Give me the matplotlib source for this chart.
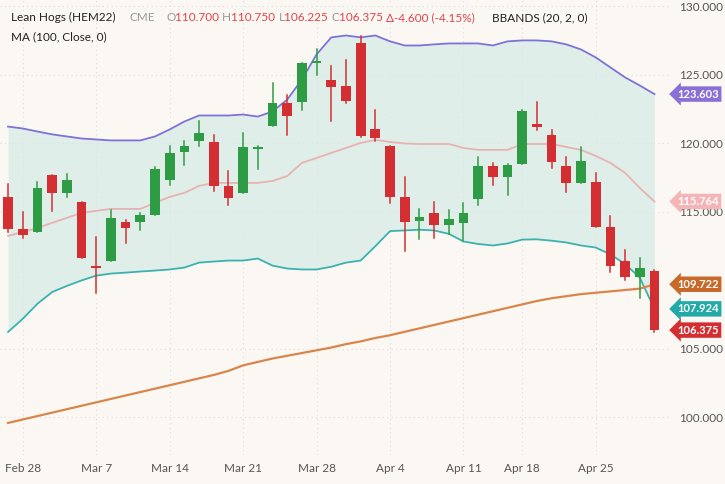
import matplotlib
matplotlib.use("Agg")
import matplotlib.pyplot as plt

opens = [116.12,113.74,113.52,117.68,116.41,115.75,111.0,111.45,114.3,114.25,114.74,117.34,119.4,120.2,120.12,116.9,116.4,119.6,121.28,122.93,123.05,125.85,124.64,124.2,
         127.31,121.04,119.82,116.07,114.35,114.95,114.05,114.22,115.95,118.38,117.53,118.5,121.4,120.62,118.38,117.09,117.21,113.93,111.45,110.23,110.70]
highs = [117.04,115.02,117.21,117.68,117.75,115.75,113.2,115.15,114.4,114.95,118.3,119.82,120.2,121.67,120.6,118.0,120.74,119.8,124.39,123.54,125.85,126.88,125.66,126.1,
         127.85,122.44,119.82,117.53,115.19,115.75,115.15,115.63,118.99,118.55,118.5,122.44,123.05,121.0,119.04,119.77,117.82,114.73,112.23,111.62,110.75]
lows = [113.56,113.08,113.52,115.07,116.12,111.62,109.06,111.45,112.71,113.69,114.74,116.97,118.43,119.82,116.5,115.48,116.36,118.12,121.28,120.62,122.44,124.98,121.67,122.98,
        120.45,120.2,115.63,112.18,113.03,113.08,113.37,112.91,115.48,116.97,116.24,118.5,121.0,118.24,116.48,117.09,113.93,110.64,110.04,108.7,106.225]
closes = [113.74,113.33,116.73,116.36,117.34,111.62,110.9,114.54,113.81,114.78,118.12,119.28,119.82,120.74,116.9,116.0,119.77,119.7,122.93,122.0,125.85,126.05,124.1,123.13,
          120.55,120.38,116.07,114.24,114.6,114.05,114.48,114.95,118.38,117.58,118.43,122.37,121.23,118.67,117.09,118.72,113.93,111.08,110.23,110.89,106.375]
upper = [121.23,121.09,120.87,120.66,120.51,120.36,120.29,120.22,120.22,120.22,120.51,121.02,121.6,122.04,122.04,122.04,122.11,121.96,122.33,123.2,124.66,126.5,127.74,127.88,
         127.74,127.88,127.45,127.15,127.15,127.23,127.3,127.3,127.3,127.15,127.45,127.52,127.52,127.45,127.23,126.86,126.28,125.55,124.82,124.23,123.6]
middle = [113.25,113.54,113.83,114.2,114.57,114.93,115.08,115.22,115.22,115.22,115.66,116.1,116.39,116.9,117.12,117.12,117.12,117.12,117.26,117.62,118.58,118.94,119.31,119.67,
          120.04,120.26,120.11,120.0,119.96,119.96,119.96,119.67,119.53,119.53,119.53,119.96,119.96,119.96,119.74,119.53,119.09,118.58,117.85,116.75,115.76]
lower = [106.24,107.2,108.3,109.15,109.6,110.0,110.35,110.5,110.57,110.65,110.72,110.8,110.94,111.3,111.38,111.45,111.45,111.6,111.08,110.87,110.8,110.8,111.0,111.3,
         111.45,112.5,113.6,113.65,113.7,113.65,113.4,112.84,112.66,112.55,112.7,112.98,113.0,112.9,112.77,112.55,112.4,111.9,111.2,110.2,107.92]
ma100 = [99.6,99.85,100.1,100.35,100.6,100.85,101.1,101.35,101.6,101.85,102.1,102.35,102.6,102.85,103.1,103.4,103.8,104.05,104.3,104.5,104.7,104.9,105.1,105.35,
         105.55,105.8,106.0,106.25,106.5,106.75,107.0,107.25,107.5,107.75,108.0,108.25,108.5,108.7,108.85,109.0,109.1,109.2,109.3,109.4,109.72]
tick_idx = [1, 6, 11, 16, 21, 26, 31, 35, 40]
tick_labels = ["Feb 28", "Mar 7", "Mar 14", "Mar 21", "Mar 28", "Apr 4", "Apr 11", "Apr 18", "Apr 25"]
ytick_vals = [100, 105, 115, 120, 125, 130]

BG = "#fbf8f3"
fig = plt.figure(figsize=(7.25, 4.84), dpi=100, facecolor=BG)
ax = fig.add_axes([0.0, 0.06, 0.925, 0.94], facecolor=BG)
n = len(closes)
xs = list(range(n))
ax.set_xlim(-0.55, n + 0.1)
ax.set_ylim(97.26, 130.47)

ax.fill_between(xs, lower, upper, color="#d5ebe5", alpha=0.7, lw=0, zorder=1)
ax.plot(xs, upper, color="#7d72d8", lw=1.3, zorder=2)
ax.plot(xs, lower, color="#3cb2ae", lw=1.3, zorder=2)
ax.plot(xs, middle, color="#e6b3b3", lw=1.3, zorder=2)
ax.plot(xs, ma100, color="#d9854c", lw=1.6, zorder=2)

for i in xs:
    o, h, l, c = opens[i], highs[i], lows[i], closes[i]
    col = "#2e9c45" if c >= o else "#d32f33"
    ax.plot([i, i], [l, h], color=col, lw=1.1, zorder=3)
    bot, top = min(o, c), max(o, c)
    ax.bar(i, max(top - bot, 0.12), bottom=bot, width=0.66, color=col, zorder=4, lw=0)

for v in ytick_vals:
    ax.axhline(v, color="#dddddd", lw=0.8, ls=(0, (1, 3)), zorder=0)
for t in tick_idx:
    ax.axvline(t, color="#dddddd", lw=0.8, ls=(0, (1, 3)), zorder=0)

ax.set_xticks(tick_idx)
ax.set_xticklabels(tick_labels, fontsize=8.5, color="#555555", fontfamily="Lato")
ax.tick_params(axis="x", length=0, pad=6)
ax.yaxis.tick_right()
ax.set_yticks(ytick_vals)
ax.set_yticklabels([f"{v:.3f}" for v in ytick_vals], fontsize=8.5, color="#555555", fontfamily="Lato")
ax.tick_params(axis="y", length=0, pad=6)
for s in ax.spines.values():
    s.set_visible(False)

tags = [(123.603, "#8a6fd8"), (115.764, "#f4b5b8"), (109.722, "#c8692a"), (107.924, "#22aaa9"), (106.375, "#d32f33")]
for val, col in tags:
    ax.annotate(f"{val:.3f}", xy=(1.0, val), xycoords=("axes fraction", "data"),
                xytext=(5, 0), textcoords="offset points", va="center", ha="left",
                fontsize=8, color="white", fontweight="bold", fontfamily="Lato",
                bbox=dict(boxstyle="larrow,pad=0.2", fc=col, ec="none"), annotation_clip=False)

y0 = 0.963
fig.text(0.015, y0, "Lean Hogs (HEM22)", fontsize=8.5, color="#222222", fontfamily="Lato", va="center")
fig.text(0.178, y0, "CME", fontsize=8.5, color="#999999", fontfamily="Lato", va="center")
parts = [("O", "#999999"), ("110.700 ", "#e0434c"), ("H", "#999999"), ("110.750 ", "#e0434c"),
         ("L", "#999999"), ("106.225 ", "#e0434c"), ("C", "#999999"), ("106.375 ", "#e0434c"),
         ("Δ-4.600 (-4.15%)", "#e0434c")]
x = 0.229
fig.canvas.draw()
r = fig.canvas.get_renderer()
for txt, col in parts:
    t = fig.text(x, y0, txt, fontsize=8.5, color=col, fontfamily="Lato", va="center")
    bb = t.get_window_extent(r)
    x += bb.width / fig.bbox.width
fig.text(0.678, y0, "BBANDS (20, 2, 0)", fontsize=8.5, color="#222222", fontfamily="Lato", va="center")
fig.text(0.015, 0.923, "MA (100, Close, 0)", fontsize=8.5, color="#222222", fontfamily="Lato", va="center")

fig.savefig("out.png", dpi=100, facecolor=BG)
